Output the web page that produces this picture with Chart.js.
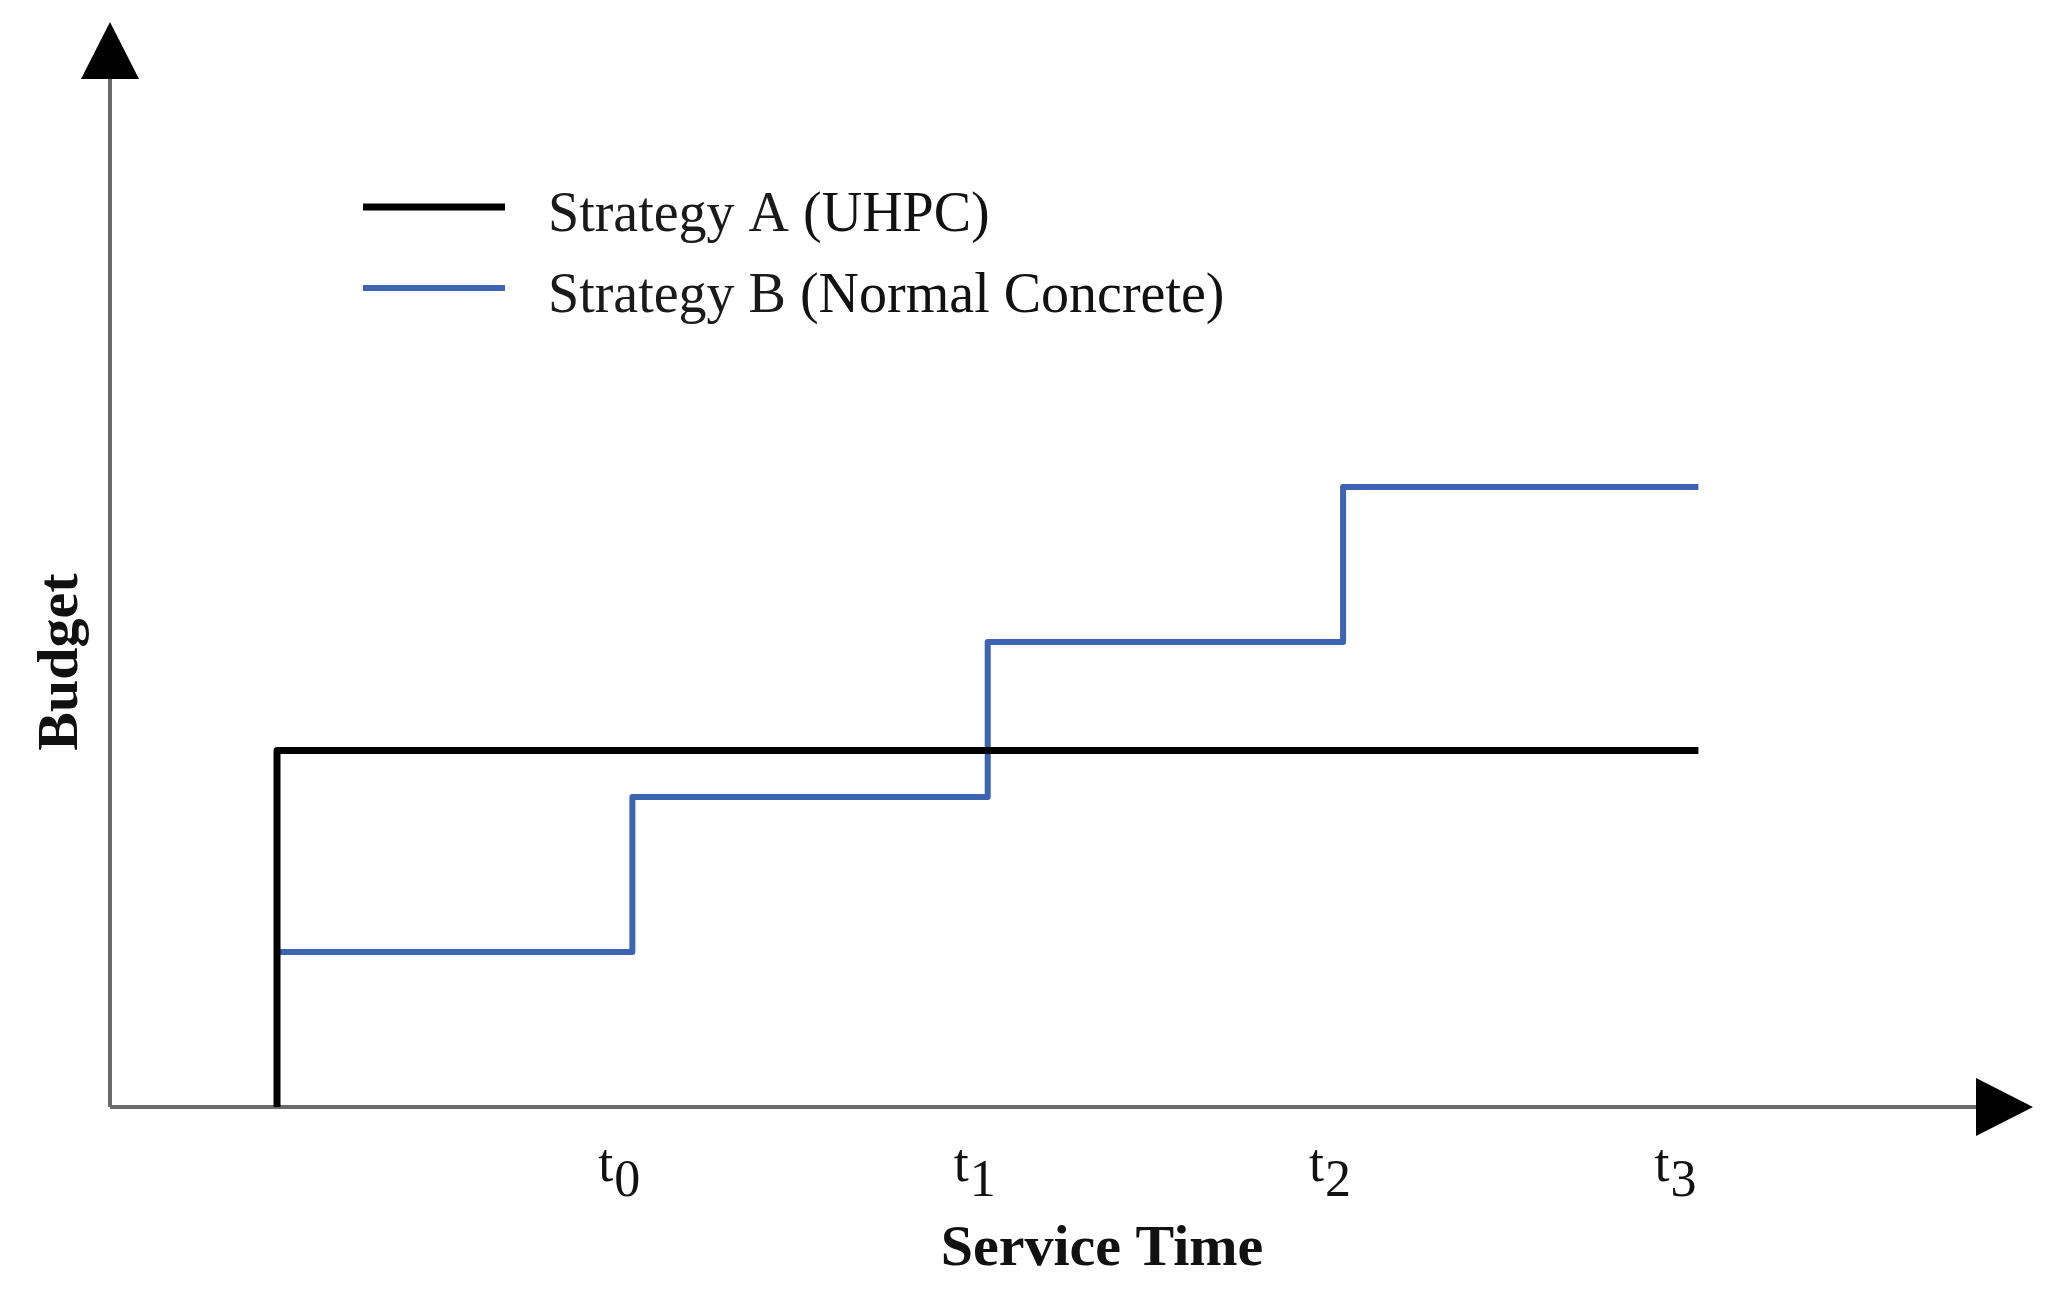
<!DOCTYPE html>
<html>
<head>
<meta charset="utf-8">
<title>Budget vs Service Time</title>
<script src="https://cdn.jsdelivr.net/npm/chart.js@4"></script>
<style>
	body { margin: 0; background: #fff; }
	#chartjs { width: 2061px; height: 1308px; }
</style>
</head>
<body>
<div id="chartjs"><canvas id="myChart" width="2061" height="1308"></canvas></div>
<script>
// step times on the service time axis
const tickValues = [3, 5, 7, 9];
const tickLabels = ["0", "1", "2", "3"];   // subscripts of t

// Strategy A (UHPC): one big budget at the start
const strategyA_x = [1, 9];
const strategyA_y = [0, 2.3];

// Strategy B (Normal Concrete): budget rises at every step
const strategyB_x = [1, 3, 5, 7, 9];
const strategyB_y = [1, 2, 3, 4, 4];

const seriesNames = ["Strategy A", "Strategy B"];
const seriesNotes = ["(UHPC)", "(Normal Concrete)"];

function toPoints(xs, ys) {
	let pts = [];
	for (let i = 0; i < xs.length; i++) {
		pts.push({x: xs[i], y: ys[i]});
	}
	return pts;
}

const serif = "'Liberation Serif', 'DejaVu Serif', serif";

const drawing = {
	id: "drawing",
	beforeDatasetsDraw(chart) {
		const ctx = chart.ctx;
		const a = chart.chartArea;
		ctx.save();
		// axes
		ctx.strokeStyle = "#6a6a6a";
		ctx.lineWidth = 4;
		ctx.beginPath();
		ctx.moveTo(a.left, a.bottom);
		ctx.lineTo(a.left, a.top + 55);
		ctx.moveTo(a.left, a.bottom);
		ctx.lineTo(a.right - 60, a.bottom);
		ctx.stroke();
		// arrow heads
		ctx.fillStyle = "#000";
		ctx.beginPath();
		ctx.moveTo(a.left, a.top);
		ctx.lineTo(a.left - 29, a.top + 57);
		ctx.lineTo(a.left + 29, a.top + 57);
		ctx.closePath();
		ctx.fill();
		ctx.beginPath();
		ctx.moveTo(a.right - 3, a.bottom);
		ctx.lineTo(a.right - 60, a.bottom - 29);
		ctx.lineTo(a.right - 60, a.bottom + 29);
		ctx.closePath();
		ctx.fill();
		ctx.restore();
	},
	afterDraw(chart) {
		const ctx = chart.ctx;
		const a = chart.chartArea;
		const xs = chart.scales.x;
		ctx.save();
		ctx.fillStyle = "#111";

		// t0..t3 under the x axis
		const shift = [-34, -34, -34, -44];
		ctx.textBaseline = "alphabetic";
		ctx.textAlign = "left";
		for (let i = 0; i < tickValues.length; i++) {
			let px = xs.getPixelForValue(tickValues[i]) + shift[i];
			ctx.font = "54px " + serif;
			ctx.fillText("t", px, a.bottom + 74);
			let w = ctx.measureText("t").width;
			ctx.font = "52px " + serif;
			ctx.fillText(tickLabels[i], px + w + 1, a.bottom + 89);
		}

		// axis titles
		ctx.font = "bold 58px " + serif;
		ctx.textAlign = "center";
		ctx.fillText("Service Time", 1102, a.bottom + 158);
		ctx.save();
		ctx.translate(62, 662);
		ctx.rotate(-Math.PI / 2);
		ctx.textBaseline = "middle";
		ctx.fillText("Budget", 0, 0);
		ctx.restore();

		// legend
		const rows = [207, 288];
		chart.data.datasets.forEach((ds, i) => {
			ctx.strokeStyle = ds.borderColor;
			ctx.lineWidth = ds.borderWidth;
			ctx.beginPath();
			ctx.moveTo(363, rows[i]);
			ctx.lineTo(505, rows[i]);
			ctx.stroke();
			ctx.textAlign = "left";
			ctx.textBaseline = "alphabetic";
			ctx.font = "56px " + serif;
			ctx.fillStyle = "#1a1a1a";
			ctx.fillText(seriesNames[i], 548, rows[i] + 24);
			let w = ctx.measureText(seriesNames[i] + " ").width;
			ctx.fillStyle = "#111";
			ctx.fillText(seriesNotes[i], 548 + w, rows[i] + 24);
		});
		ctx.restore();
	}
};

const data = {
	datasets: [{
		label: "Strategy A (UHPC)",
		data: toPoints(strategyA_x, strategyA_y),
		borderColor: "#000000",
		borderWidth: 7,
		stepped: "after",
		pointRadius: 0,
		borderJoinStyle: "round",
		fill: false
	}, {
		label: "Strategy B (Normal Concrete)",
		data: toPoints(strategyB_x, strategyB_y),
		borderColor: "#3d63b3",
		borderWidth: 6,
		stepped: "before",
		pointRadius: 0,
		borderJoinStyle: "round",
		fill: false
	}]
};

const config = {
	type: "line",
	data: data,
	options: {
		responsive: false,
		animation: false,
		devicePixelRatio: 1,
		events: [],
		layout: {
			padding: {left: 110, top: 22, right: 25, bottom: 201}
		},
		scales: {
			x: { type: "linear", min: 0.06, max: 10.9, display: false },
			y: { type: "linear", min: 0, max: 7, display: false }
		},
		plugins: {
			legend: { display: false },
			tooltip: { enabled: false }
		}
	},
	plugins: [drawing]
};

let ctx = document.getElementById("myChart").getContext("2d");
new Chart(ctx, config);
</script>
</body>
</html>
